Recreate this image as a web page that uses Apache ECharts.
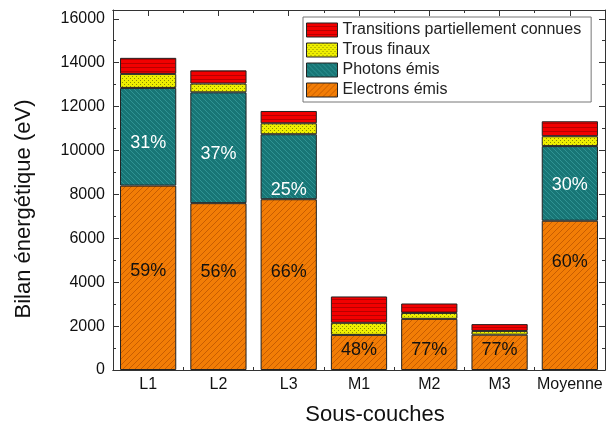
<!DOCTYPE html>
<html>
<head>
<meta charset="utf-8">
<script src="https://cdn.jsdelivr.net/npm/echarts@6/dist/echarts.min.js"></script>
<style>
  html, body { margin: 0; padding: 0; background: #fff; }
  #box { width: 614px; height: 428px; }
</style>
</head>
<body>
<div id="box"></div>
<script>
// sous-couches
var categories = ['L1', 'L2', 'L3', 'M1', 'M2', 'M3', 'Moyenne'];
// eV
var electrons   = [8400, 7600, 7780, 1600, 2330, 1610, 6800];
var photons     = [4450, 5050, 2960, null, null, null, 3400];
var trous       = [640, 400, 500, 550, 270, 170, 450];
var transitions = [730, 600, 560, 1200, 430, 310, 680];
var electronsPct = ['59%', '56%', '66%', '48%', '77%', '77%', '60%'];
var photonsPct   = ['31%', '37%', '25%', '', '', '', '30%'];
var yTicks = [0, 2000, 4000, 6000, 8000, 10000, 12000, 14000, 16000];

// petits motifs hachures
function makePattern(size, base, ink, draw) {
    var c = document.createElement('canvas');
    c.width = size; c.height = size;
    var ctx = c.getContext('2d');
    ctx.fillStyle = base;
    ctx.fillRect(0, 0, size, size);
    ctx.fillStyle = ink;
    draw(ctx, size);
    return { image: c, repeat: 'repeat' };
}
var orangePat = makePattern(6, '#f27d06', '#c85d00', function (ctx, s) {
    for (var i = 0; i < s; i++) ctx.fillRect(i, s - 1 - i, 1, 1);
});
var tealPat = makePattern(5, '#187676', '#2f9393', function (ctx, s) {
    for (var i = 0; i < s; i++) ctx.fillRect(i, i, 1, 1);
});
var yellowPat = makePattern(4, '#eeee00', '#8c8c00', function (ctx, s) {
    ctx.fillRect(0, 0, 1, 1);
    ctx.fillRect(2, 2, 1, 1);
});
var redPat = makePattern(4, '#f20000', '#b80000', function (ctx, s) {
    ctx.fillRect(0, 3, s, 1);
});

var FONT = 'Liberation Sans';
var myChart = echarts.init(document.getElementById('box'), null, { renderer: 'canvas' });

function xAxisDef(pos, center, len) {
    return {
        type: 'category',
        data: categories,
        position: pos,
        axisLine: { show: true, lineStyle: { color: '#333', width: 1 } },
        axisTick: { show: true, inside: true, interval: 0, alignWithLabel: center, length: len, lineStyle: { color: '#333' } },
        axisLabel: { show: pos === 'bottom' && center, interval: 0, margin: 7, color: '#111', fontSize: 16, fontFamily: FONT },
        splitLine: { show: false }
    };
}
function yAxisDef(pos) {
    return {
        type: 'value',
        position: pos,
        min: 0,
        max: 16400,
        interval: 2000,
        axisLine: { show: true, lineStyle: { color: '#333', width: 1 } },
        axisTick: { show: true, inside: true, length: 6, lineStyle: { color: '#333' } },
        minorTick: { show: true, splitNumber: 2, length: 3, lineStyle: { color: '#333' } },
        axisLabel: {
            show: pos === 'left', margin: 8, color: '#111', fontSize: 16, fontFamily: FONT,
            formatter: function (v) { return yTicks.indexOf(v) >= 0 ? String(v) : ''; }
        },
        splitLine: { show: false }
    };
}

var barStyle = function (pat) {
    return { color: pat, borderColor: '#222', borderWidth: 1 };
};

// decalage vertical des pourcentages (px), comme sur la figure
var elecShift = [-7, -15, -13, -2, 6, -2, -33];
var photShift = [6, 6, 23, 0, 0, 0, 2];
function withLabelShift(values, shift) {
    return values.map(function (v, i) {
        return { value: v, label: { offset: [0, shift[i]] } };
    });
}

option = {
    backgroundColor: '#fff',
    animation: false,
    grid: { left: 113, right: 9, top: 10, bottom: 58, containLabel: false },
    legend: {
        orient: 'vertical',
        left: 303,
        top: 17,
        padding: [5, 10, 4, 3],
        itemGap: 4,
        itemWidth: 31,
        itemHeight: 14,
        borderColor: '#777',
        borderWidth: 1,
        backgroundColor: '#fff',
        icon: 'rect',
        itemStyle: { borderColor: '#222', borderWidth: 1 },
        textStyle: { fontSize: 16, lineHeight: 16, color: '#222', fontFamily: FONT },
        data: ['Transitions partiellement connues', 'Trous finaux', 'Photons émis', 'Electrons émis']
    },
    xAxis: [
        xAxisDef('bottom', true, 6),
        xAxisDef('bottom', false, 3),
        xAxisDef('top', true, 6),
        xAxisDef('top', false, 3)
    ],
    yAxis: [yAxisDef('left'), yAxisDef('right')],
    graphic: [
        {
            type: 'text', x: 24, y: 209, rotation: Math.PI / 2,
            style: { text: 'Bilan énergétique (eV)', fontSize: 22, fontFamily: FONT, fill: '#111', align: 'center', verticalAlign: 'middle' }
        },
        {
            type: 'text', x: 375, y: 415,
            style: { text: 'Sous-couches', fontSize: 22, fontFamily: FONT, fill: '#111', align: 'center', verticalAlign: 'middle' }
        }
    ],
    series: [
        {
            name: 'Electrons émis', type: 'bar', stack: 'tot', barWidth: '80%',
            itemStyle: barStyle(orangePat),
            label: {
                show: true, position: 'inside', fontSize: 18, fontFamily: FONT, color: '#111',
                formatter: function (p) { return electronsPct[p.dataIndex]; }
            },
            data: withLabelShift(electrons, elecShift)
        },
        {
            name: 'Photons émis', type: 'bar', stack: 'tot',
            itemStyle: barStyle(tealPat),
            label: {
                show: true, position: 'inside', fontSize: 18, fontFamily: FONT, color: '#fff',
                formatter: function (p) { return photonsPct[p.dataIndex]; }
            },
            data: withLabelShift(photons, photShift)
        },
        {
            name: 'Trous finaux', type: 'bar', stack: 'tot',
            itemStyle: barStyle(yellowPat),
            data: trous
        },
        {
            name: 'Transitions partiellement connues', type: 'bar', stack: 'tot',
            itemStyle: barStyle(redPat),
            data: transitions
        }
    ]
};
myChart.setOption(option);
</script>
</body>
</html>
